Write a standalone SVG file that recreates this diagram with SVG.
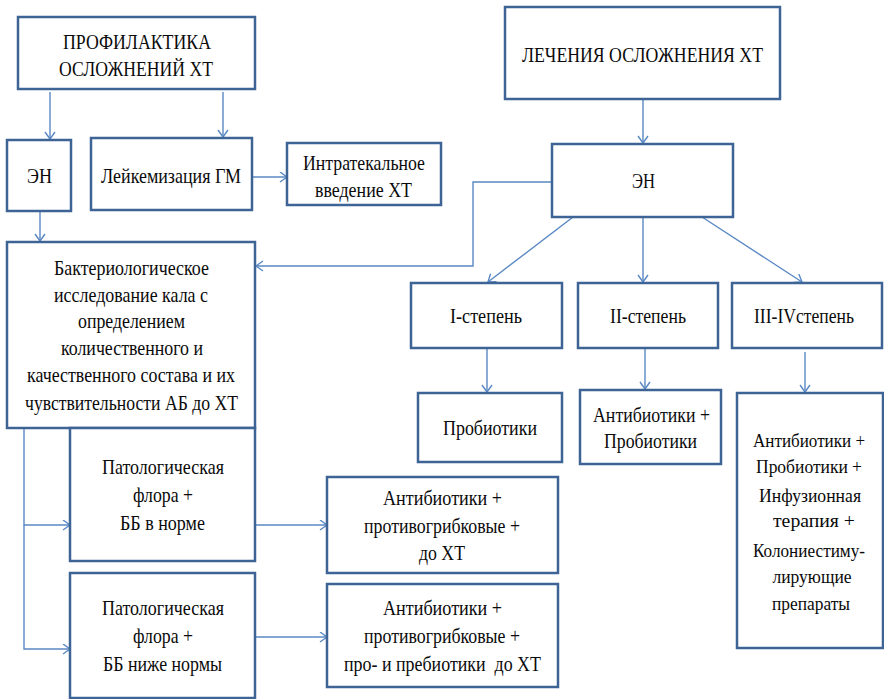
<svg xmlns="http://www.w3.org/2000/svg" width="884" height="699" viewBox="0 0 884 699">
<style>
.box{fill:#fff;stroke:#3e6496;stroke-width:2.5}
.c{fill:none;stroke:#5a88c4;stroke-width:1.4}
text{font-family:"Liberation Serif","Times New Roman",serif;font-size:21px;fill:#0a0a0a;text-anchor:middle}
.s{font-size:19px}
</style>
<defs>
<marker id="a" markerUnits="userSpaceOnUse" markerWidth="12" markerHeight="12" refX="8" refY="5.5" orient="auto">
<path d="M1,0.5 L8,5.5 L1,10.5" fill="none" stroke="#5a88c4" stroke-width="1.4"/>
</marker>
</defs>
<rect width="884" height="699" fill="#fff"/>
<g id="connectors" class="c">
<path class="c" d="M50,92 V139" marker-end="url(#a)"/>
<path class="c" d="M223,92 V137" marker-end="url(#a)"/>
<path class="c" d="M252,177 H287" marker-end="url(#a)"/>
<path class="c" d="M40,211 V241" marker-end="url(#a)"/>
<path class="c" d="M643,99 V143" marker-end="url(#a)"/>
<path class="c" d="M552,182 H473 V266 H256" marker-end="url(#a)"/>
<path class="c" d="M577,214 L488,282" marker-end="url(#a)"/>
<path class="c" d="M643,217 V282" marker-end="url(#a)"/>
<path class="c" d="M702,217 L802,282" marker-end="url(#a)"/>
<path class="c" d="M487,348 V392" marker-end="url(#a)"/>
<path class="c" d="M645,348 V389" marker-end="url(#a)"/>
<path class="c" d="M805,352 V392" marker-end="url(#a)"/>
<path class="c" d="M24,428 V525 H70" marker-end="url(#a)"/>
<path class="c" d="M24,525 V649 H70" marker-end="url(#a)"/>
<path class="c" d="M255,525 H327" marker-end="url(#a)"/>
<path class="c" d="M255,637 H327" marker-end="url(#a)"/>
</g>
<g id="prof"><rect class="box" x="18" y="17" width="237" height="72"/>
<text x="137" y="49" textLength="148" lengthAdjust="spacingAndGlyphs">ПРОФИЛАКТИКА</text>
<text x="136" y="76" textLength="154" lengthAdjust="spacingAndGlyphs">ОСЛОЖНЕНИЙ ХТ</text></g>
<g id="en1"><rect class="box" x="7" y="140" width="64" height="71"/>
<text x="39.5" y="183" textLength="25" lengthAdjust="spacingAndGlyphs">ЭН</text></g>
<g id="leik"><rect class="box" x="91" y="138" width="161" height="72"/>
<text x="171" y="183" textLength="140" lengthAdjust="spacingAndGlyphs">Лейкемизация ГМ</text></g>
<g id="intra"><rect class="box" x="287" y="143" width="154" height="62"/>
<text x="364" y="170" textLength="122" lengthAdjust="spacingAndGlyphs">Интратекальное</text>
<text x="363.5" y="197" textLength="97" lengthAdjust="spacingAndGlyphs">введение ХТ</text></g>
<g id="lech"><rect class="box" x="505" y="7" width="275" height="92"/>
<text x="642.5" y="62" textLength="241" lengthAdjust="spacingAndGlyphs">ЛЕЧЕНИЯ ОСЛОЖНЕНИЯ ХТ</text></g>
<g id="en2"><rect class="box" x="552" y="144" width="181" height="73"/>
<text x="643.5" y="188" textLength="23" lengthAdjust="spacingAndGlyphs">ЭН</text></g>
<g id="bakt"><rect class="box" x="7" y="242" width="248" height="186"/>
<text x="131.5" y="275" textLength="155" lengthAdjust="spacingAndGlyphs">Бактериологическое</text>
<text x="131" y="302" textLength="154" lengthAdjust="spacingAndGlyphs">исследование кала с</text>
<text x="131.5" y="328" textLength="107" lengthAdjust="spacingAndGlyphs">определением</text>
<text x="132" y="355" textLength="142" lengthAdjust="spacingAndGlyphs">количественного и</text>
<text x="131" y="382" textLength="208" lengthAdjust="spacingAndGlyphs">качественного состава и их</text>
<text x="131.5" y="410" textLength="213" lengthAdjust="spacingAndGlyphs">чувствительности АБ до ХТ</text></g>
<g id="st1"><rect class="box" x="411" y="283" width="151" height="65"/>
<text x="486" y="323" textLength="72" lengthAdjust="spacingAndGlyphs">I-степень</text></g>
<g id="st2"><rect class="box" x="578" y="283" width="140" height="65"/>
<text x="648" y="323" textLength="76" lengthAdjust="spacingAndGlyphs">II-степень</text></g>
<g id="st3"><rect class="box" x="732" y="283" width="150" height="65"/>
<text x="804" y="323" textLength="100" lengthAdjust="spacingAndGlyphs">III-IVстепень</text></g>
<g id="prob"><rect class="box" x="418" y="393" width="144" height="69"/>
<text x="490" y="435" textLength="94" lengthAdjust="spacingAndGlyphs">Пробиотики</text></g>
<g id="antiprob"><rect class="box" x="580" y="390" width="141" height="74"/>
<text x="651.5" y="422" textLength="117" lengthAdjust="spacingAndGlyphs">Антибиотики +</text>
<text x="650.5" y="448" textLength="93" lengthAdjust="spacingAndGlyphs">Пробиотики</text></g>
<g id="big"><rect class="box" x="737" y="393" width="146" height="255"/>
<text class="s" x="809" y="447" textLength="112" lengthAdjust="spacingAndGlyphs">Антибиотики +</text>
<text class="s" x="809" y="473" textLength="106" lengthAdjust="spacingAndGlyphs">Пробиотики +</text>
<text class="s" x="810" y="502" textLength="102" lengthAdjust="spacingAndGlyphs">Инфузионная</text>
<text class="s" x="814" y="527" textLength="82" lengthAdjust="spacingAndGlyphs">терапия +</text>
<text class="s" x="809" y="557" textLength="112" lengthAdjust="spacingAndGlyphs">Колониестиму-</text>
<text class="s" x="812" y="583" textLength="79" lengthAdjust="spacingAndGlyphs">лирующие</text>
<text class="s" x="811" y="610" textLength="78" lengthAdjust="spacingAndGlyphs">препараты</text></g>
<g id="pat1"><rect class="box" x="70" y="428" width="185" height="133"/>
<text x="163" y="474" textLength="122" lengthAdjust="spacingAndGlyphs">Патологическая</text>
<text x="163" y="502" textLength="60" lengthAdjust="spacingAndGlyphs">флора +</text>
<text x="162.5" y="530" textLength="85" lengthAdjust="spacingAndGlyphs">ББ в норме</text></g>
<g id="pat2"><rect class="box" x="70" y="573" width="185" height="125"/>
<text x="163" y="615" textLength="122" lengthAdjust="spacingAndGlyphs">Патологическая</text>
<text x="163" y="643" textLength="60" lengthAdjust="spacingAndGlyphs">флора +</text>
<text x="162.5" y="671" textLength="119" lengthAdjust="spacingAndGlyphs">ББ ниже нормы</text></g>
<g id="ab1"><rect class="box" x="327" y="477" width="231" height="96"/>
<text x="442.5" y="505" textLength="119" lengthAdjust="spacingAndGlyphs">Антибиотики +</text>
<text x="442" y="533" textLength="156" lengthAdjust="spacingAndGlyphs">противогрибковые +</text>
<text x="442" y="560" textLength="46" lengthAdjust="spacingAndGlyphs">до ХТ</text></g>
<g id="ab2"><rect class="box" x="327" y="584" width="231" height="103"/>
<text x="442.5" y="615" textLength="119" lengthAdjust="spacingAndGlyphs">Антибиотики +</text>
<text x="442" y="643" textLength="156" lengthAdjust="spacingAndGlyphs">противогрибковые +</text>
<text x="442.5" y="671" textLength="197" lengthAdjust="spacingAndGlyphs" xml:space="preserve">про- и пребиотики  до ХТ</text></g>
</svg>
